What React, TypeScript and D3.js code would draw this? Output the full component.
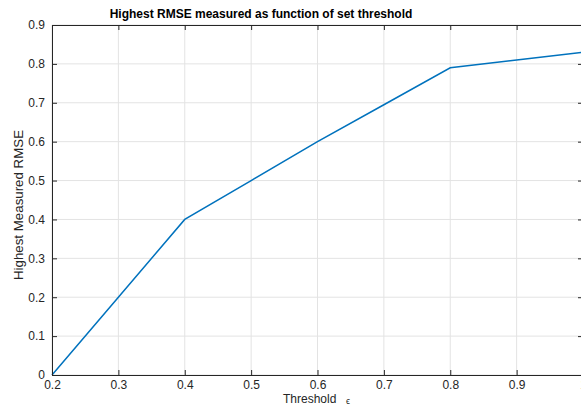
import React, { useEffect, useRef } from 'react';
import * as d3 from 'd3';

// threshold values and the highest RMSE
const thresholds = [0.2, 0.3, 0.4, 0.5, 0.6, 0.7, 0.8, 0.9, 1.0];
const rmse = [0, 0.2, 0.4, 0.5, 0.6, 0.695, 0.79, 0.81, 0.83];
const xTicks = [0.2, 0.3, 0.4, 0.5, 0.6, 0.7, 0.8, 0.9, 1];
const yTicks = [0, 0.1, 0.2, 0.3, 0.4, 0.5, 0.6, 0.7, 0.8, 0.9];

export default function App() {
  const ref = useRef<SVGSVGElement>(null);

  useEffect(() => {
    const width = 581;
    const height = 407;
    const margin = { top: 25, right: -2, bottom: 32, left: 52 };
    const svg = d3.select(ref.current);
    svg.selectAll('*').remove();

    const x = d3.scaleLinear().domain([0.2, 1]).range([margin.left, width - margin.right]);
    const y = d3.scaleLinear().domain([0, 0.9]).range([height - margin.bottom, margin.top]);
    const font = 'Liberation Sans, Arial, Helvetica, sans-serif';
    const axisColor = '#262626';

    // grid
    const grid = svg.append('g');
    grid.selectAll('.vx').data(xTicks).enter().append('line')
      .attr('x1', d => x(d)).attr('x2', d => x(d))
      .attr('y1', y(0)).attr('y2', y(0.9))
      .attr('stroke', '#e3e3e3').attr('stroke-width', 1);
    grid.selectAll('.hy').data(yTicks).enter().append('line')
      .attr('x1', x(0.2)).attr('x2', x(1))
      .attr('y1', d => y(d)).attr('y2', d => y(d))
      .attr('stroke', '#e3e3e3').attr('stroke-width', 1);

    // data line
    const line = d3.line<number>()
      .x((d, i) => x(thresholds[i]))
      .y(d => y(d));
    svg.append('path')
      .datum(rmse)
      .attr('fill', 'none')
      .attr('stroke', '#0072BD')
      .attr('stroke-width', 1.5)
      .attr('d', line);

    // axes (box on, ticks inside)
    const tick = 5;
    const xAxis = d3.axisBottom(x).tickValues(xTicks).tickSizeInner(-tick).tickSizeOuter(0)
      .tickPadding(5).tickFormat(d => d3.format('')(d as number));
    const gx = svg.append('g').attr('transform', `translate(0,${y(0)})`).call(xAxis);
    const xTop = d3.axisTop(x).tickValues(xTicks).tickSizeInner(-tick).tickSizeOuter(0).tickFormat(() => '');
    const gxt = svg.append('g').attr('transform', `translate(0,${y(0.9)})`).call(xTop);
    const yAxis = d3.axisLeft(y).tickValues(yTicks).tickSizeInner(-tick).tickSizeOuter(0)
      .tickPadding(7).tickFormat(d => d3.format('')(d as number));
    const gy = svg.append('g').attr('transform', `translate(${x(0.2)},0)`).call(yAxis);
    const yRight = d3.axisRight(y).tickValues(yTicks).tickSizeInner(-tick).tickSizeOuter(0).tickFormat(() => '');
    const gyr = svg.append('g').attr('transform', `translate(${x(1)},0)`).call(yRight);

    [gx, gxt, gy, gyr].forEach(g => {
      g.select('.domain').attr('stroke', axisColor).attr('stroke-width', 1);
      g.selectAll('.tick line').attr('stroke', axisColor);
      g.selectAll('.tick text').attr('fill', axisColor).style('font-family', font).style('font-size', '12px');
    });

    // title and labels
    svg.append('text')
      .attr('x', 261).attr('y', 18)
      .attr('text-anchor', 'middle')
      .style('font-family', font).style('font-size', '12px').style('font-weight', 'bold')
      .attr('fill', '#000')
      .text('Highest RMSE measured as function of set threshold');

    svg.append('text')
      .attr('x', 283).attr('y', 403)
      .style('font-family', font).style('font-size', '12px')
      .attr('fill', axisColor)
      .text('Threshold');
    svg.append('text')
      .attr('x', 346).attr('y', 404)
      .style('font-family', font).style('font-size', '9px')
      .attr('fill', axisColor)
      .text('ϵ');

    svg.append('text')
      .attr('transform', `translate(23,205) rotate(-90)`)
      .attr('text-anchor', 'middle')
      .style('font-family', font).style('font-size', '13.3px')
      .attr('fill', axisColor)
      .text('Highest Measured RMSE');
  }, []);

  return (
    <svg ref={ref} width={581} height={407}
      style={{ position: 'absolute', left: 0, top: 0, background: '#fff' }} />
  );
}
